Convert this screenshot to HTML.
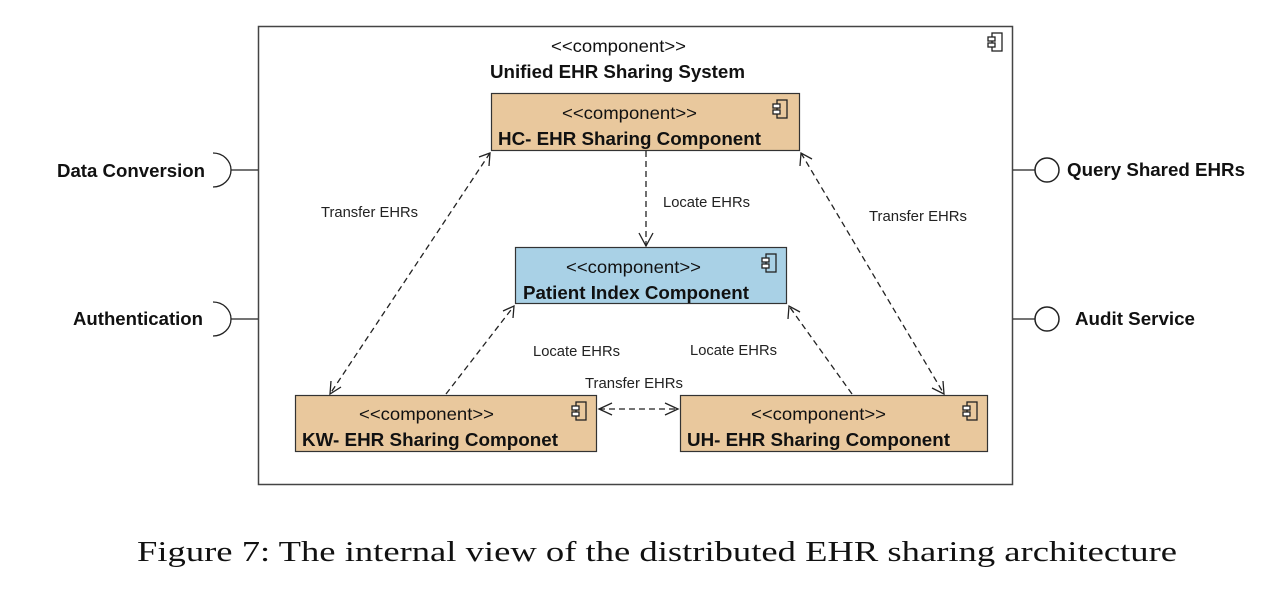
<!DOCTYPE html>
<html><head><meta charset="utf-8"><style>
html,body{margin:0;padding:0;background:#fff;width:1278px;height:590px;overflow:hidden}
svg{display:block}
.s{font-family:"Liberation Sans",sans-serif;font-size:17.5px;fill:#111}
.b{font-family:"Liberation Sans",sans-serif;font-size:18.5px;font-weight:bold;fill:#111}
.l{font-family:"Liberation Sans",sans-serif;font-size:14.5px;fill:#222}
.d{stroke:#222;stroke-width:1.3;stroke-dasharray:6,4;fill:none}
.a{stroke:#222;stroke-width:1.3;fill:none}
</style></head><body>
<svg width="1278" height="590" viewBox="0 0 1278 590">
<defs>
<g id="ic" fill="none" stroke="#222" stroke-width="1.3">
<rect x="4" y="0" width="10" height="18" fill="none"/>
<rect x="0" y="4" width="7" height="4" fill="#fff"/>
<rect x="0" y="10" width="7" height="4" fill="#fff"/>
</g>
</defs>
<rect x="258.5" y="26.5" width="754" height="458" fill="#fff" stroke="#444" stroke-width="1.5"/>
<use href="#ic" x="988" y="33"/>
<text class="s" x="551" y="52" textLength="135" lengthAdjust="spacingAndGlyphs">&lt;&lt;component&gt;&gt;</text>
<text class="b" x="490" y="78" textLength="255" lengthAdjust="spacingAndGlyphs">Unified EHR Sharing System</text>

<rect x="491.5" y="93.5" width="308" height="57" fill="#e9c89d" stroke="#333" stroke-width="1.2"/>
<use href="#ic" x="773" y="100"/>
<text class="s" x="562" y="119" textLength="135" lengthAdjust="spacingAndGlyphs">&lt;&lt;component&gt;&gt;</text>
<text class="b" x="498" y="145" textLength="263" lengthAdjust="spacingAndGlyphs">HC- EHR Sharing Component</text>

<rect x="515.5" y="247.5" width="271" height="56" fill="#a9d1e6" stroke="#333" stroke-width="1.2"/>
<use href="#ic" x="762" y="254"/>
<text class="s" x="566" y="273" textLength="135" lengthAdjust="spacingAndGlyphs">&lt;&lt;component&gt;&gt;</text>
<text class="b" x="523" y="299" textLength="226" lengthAdjust="spacingAndGlyphs">Patient Index Component</text>

<rect x="295.5" y="395.5" width="301" height="56" fill="#e9c89d" stroke="#333" stroke-width="1.2"/>
<use href="#ic" x="572" y="402"/>
<text class="s" x="359" y="420" textLength="135" lengthAdjust="spacingAndGlyphs">&lt;&lt;component&gt;&gt;</text>
<text class="b" x="302" y="446" textLength="256" lengthAdjust="spacingAndGlyphs">KW- EHR Sharing Componet</text>

<rect x="680.5" y="395.5" width="307" height="56" fill="#e9c89d" stroke="#333" stroke-width="1.2"/>
<use href="#ic" x="963" y="402"/>
<text class="s" x="751" y="420" textLength="135" lengthAdjust="spacingAndGlyphs">&lt;&lt;component&gt;&gt;</text>
<text class="b" x="687" y="446" textLength="263" lengthAdjust="spacingAndGlyphs">UH- EHR Sharing Component</text>

<line class="d" x1="646" y1="151" x2="646" y2="246"/>
<path class="a" d="M639 233 L646 246 L653 233"/>
<text class="l" x="663" y="207" textLength="87" lengthAdjust="spacingAndGlyphs">Locate EHRs</text>
<line class="d" x1="490" y1="153" x2="330" y2="394"/>
<path class="a" d="M479 157 L490 153 L489 166"/>
<path class="a" d="M331 381 L330 394 L341 387"/>
<text class="l" x="321" y="217" textLength="97" lengthAdjust="spacingAndGlyphs">Transfer EHRs</text>
<line class="d" x1="801" y1="153" x2="944" y2="394"/>
<path class="a" d="M800 166 L801 153 L812 159"/>
<path class="a" d="M932 388 L944 394 L943 381"/>
<text class="l" x="869" y="221" textLength="98" lengthAdjust="spacingAndGlyphs">Transfer EHRs</text>
<line class="d" x1="446" y1="394" x2="514" y2="306"/>
<path class="a" d="M503 311 L514 306 L513 318"/>
<text class="l" x="533" y="356" textLength="87" lengthAdjust="spacingAndGlyphs">Locate EHRs</text>
<line class="d" x1="852" y1="394" x2="789" y2="306"/>
<path class="a" d="M788 319 L789 306 L800 312"/>
<text class="l" x="690" y="355" textLength="87" lengthAdjust="spacingAndGlyphs">Locate EHRs</text>
<line class="d" x1="599" y1="409" x2="678" y2="409"/>
<path class="a" d="M612 403 L599 409 L612 415"/>
<path class="a" d="M665 403 L678 409 L665 415"/>
<text class="l" x="585" y="388" textLength="98" lengthAdjust="spacingAndGlyphs">Transfer EHRs</text>

<path class="a" d="M213 153 A18 17 0 0 1 213 187" stroke-width="1.5"/>
<line class="a" x1="231" y1="170" x2="258" y2="170" stroke-width="1.5"/>
<text class="b" x="57" y="177" textLength="148" lengthAdjust="spacingAndGlyphs">Data Conversion</text>
<path class="a" d="M213 302 A18 17 0 0 1 213 336" stroke-width="1.5"/>
<line class="a" x1="231" y1="319" x2="258" y2="319" stroke-width="1.5"/>
<text class="b" x="73" y="325" textLength="130" lengthAdjust="spacingAndGlyphs">Authentication</text>
<line class="a" x1="1013" y1="170" x2="1035" y2="170" stroke-width="1.5"/>
<circle cx="1047" cy="170" r="12" fill="#fff" stroke="#222" stroke-width="1.5"/>
<text class="b" x="1067" y="176" textLength="178" lengthAdjust="spacingAndGlyphs">Query Shared EHRs</text>
<line class="a" x1="1013" y1="319" x2="1035" y2="319" stroke-width="1.5"/>
<circle cx="1047" cy="319" r="12" fill="#fff" stroke="#222" stroke-width="1.5"/>
<text class="b" x="1075" y="325" textLength="120" lengthAdjust="spacingAndGlyphs">Audit Service</text>

<text x="137" y="561" textLength="1040" lengthAdjust="spacingAndGlyphs" font-family="'Liberation Serif',serif" font-size="29" fill="#111">Figure 7: The internal view of the distributed EHR sharing architecture</text>
</svg>
</body></html>
